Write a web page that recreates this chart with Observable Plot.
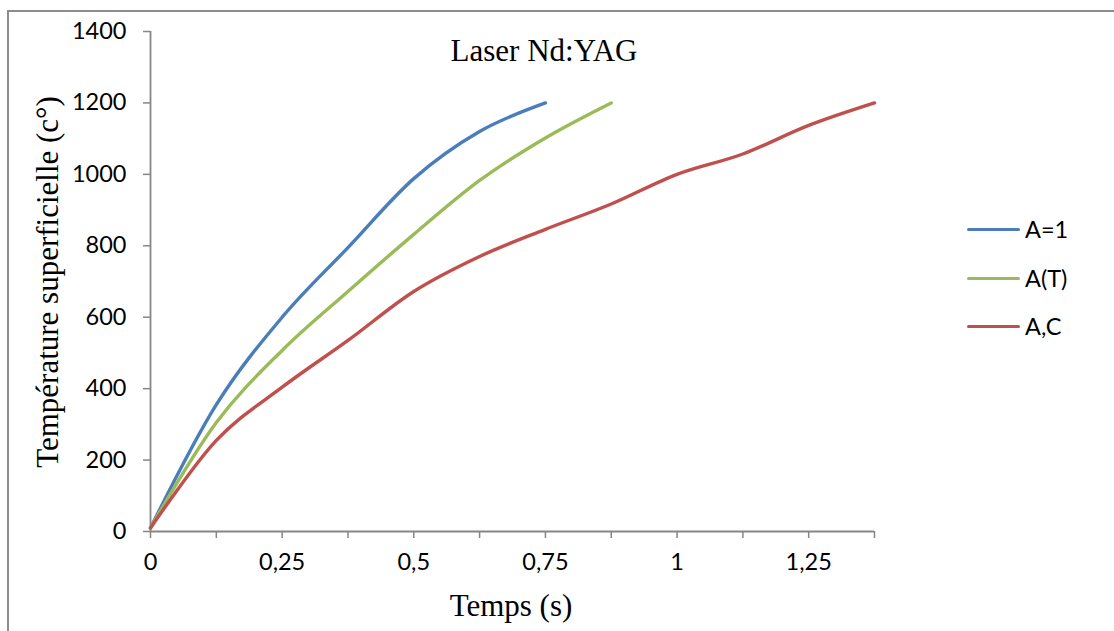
<!DOCTYPE html>
<html>
<head>
<meta charset="utf-8">
<script src="https://cdn.jsdelivr.net/npm/d3@7"></script>
<script src="https://cdn.jsdelivr.net/npm/@observablehq/plot@0.6"></script>
<style>
  html, body { margin: 0; padding: 0; background: #fff; overflow: hidden; width: 1114px; height: 631px; }
  #wrap { position: relative; width: 1114px; height: 631px; }
  #frame { position: absolute; left: 7px; top: 10px; width: 2000px; height: 2000px;
           border-left: 2px solid #8c8c8c; border-top: 2px solid #8c8c8c; box-sizing: border-box; }
  #chart { position: absolute; left: 0; top: 0; }
  .serif { position: absolute; font-family: "Liberation Serif", "Times New Roman", serif; font-size: 31px; color: #000; white-space: nowrap; line-height: 1; }
  #title { left: 544px; top: 35px; transform: translateX(-50%); }
  #xlabel { left: 511px; top: 590px; transform: translateX(-50%); }
  #ylabel { left: 47px; top: 282px; transform: translate(-50%, -50%) rotate(-90deg); }
  #legend { position: absolute; left: 967px; top: 0; font-family: Lato, "Open Sans", sans-serif; font-size: 23.5px; }
  .item { position: absolute; left: 0; display: flex; align-items: center; white-space: nowrap; transform: translateY(-50%); }
  .swatch { width: 53px; height: 0; border-top: 3.4px solid; border-radius: 2px; margin-right: 5px; }
</style>
</head>
<body>
<div id="wrap">
  <div id="frame"></div>
  <div id="chart"></div>
  <div id="title" class="serif">Laser Nd:YAG</div>
  <div id="xlabel" class="serif">Temps (s)</div>
  <div id="ylabel" class="serif">Température superficielle (c°)</div>
  <div id="legend"></div>
</div>
<script>
// ---- data ----
const times = [0, 0.125, 0.25, 0.375, 0.5, 0.625, 0.75, 0.875, 1, 1.125, 1.25, 1.375];
const seriesNames = ["A=1", "A(T)", "A,C"];
const seriesColors = ["#4A7EBB", "#9BBB59", "#C0504D"];
const tempA1 = [10, 355, 600, 795, 988, 1120, 1200];
const tempAT = [10, 305, 507, 672, 832, 983, 1102, 1200];
const tempAC = [10, 255, 404, 535, 672, 770, 846, 917, 1000, 1057, 1137, 1200];
const yTicks = [0, 200, 400, 600, 800, 1000, 1200, 1400];
const xTickLabels = ["0", "", "0,25", "", "0,5", "", "0,75", "", "1", "", "1,25", ""];

const allSeries = [tempA1, tempAT, tempAC];
const rows = [];
allSeries.forEach((vals, si) => {
  vals.forEach((v, i) => rows.push({ t: times[i], v, s: seriesNames[si] }));
});

const chart = Plot.plot({
  width: 1114,
  height: 631,
  marginLeft: 150,
  marginRight: 240,
  marginTop: 31,
  marginBottom: 100,
  style: { fontFamily: "Lato, 'Open Sans', sans-serif", fontSize: "23.5px", color: "#000", background: "transparent" },
  x: { domain: [0, times[times.length - 1]] },
  y: { domain: [0, yTicks[yTicks.length - 1]] },
  color: { domain: seriesNames, range: seriesColors },
  marks: [
    Plot.axisY({ ticks: yTicks, tickSize: 7, tickPadding: 17, stroke: "#868686", strokeWidth: 1.5, tickFormat: d => String(d), label: null, fontSize: 23.5 }),
    Plot.axisX({ ticks: times, tickSize: 7, tickPadding: 15, stroke: "#868686", strokeWidth: 1.5, tickFormat: (d, i) => xTickLabels[i], label: null, fontSize: 23.5 }),
    Plot.ruleX([0], { stroke: "#868686", strokeWidth: 1.8 }),
    Plot.ruleY([0], { stroke: "#868686", strokeWidth: 1.8 }),
    Plot.line(rows, { x: "t", y: "v", z: "s", stroke: "s", strokeWidth: 3.4, curve: "cardinal", tension: 0, strokeLinecap: "round" })
  ]
});
document.getElementById("chart").appendChild(chart);

const legendY = [229, 278, 326];
const legend = document.getElementById("legend");
seriesNames.forEach((name, i) => {
  const item = document.createElement("div");
  item.className = "item";
  item.style.top = legendY[i] + "px";
  const sw = document.createElement("div");
  sw.className = "swatch";
  sw.style.borderTopColor = seriesColors[i];
  const tx = document.createElement("span");
  tx.textContent = name;
  item.appendChild(sw);
  item.appendChild(tx);
  legend.appendChild(item);
});
</script>
</body>
</html>
